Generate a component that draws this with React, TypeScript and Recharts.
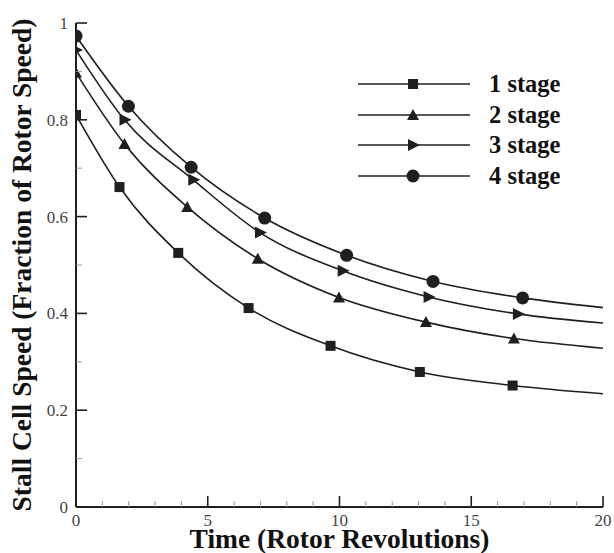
import { LineChart, Line, XAxis, YAxis } from 'recharts'

// readings from the figure: marker positions + end of each curve at t = 20
const STAGE1_T = [0, 1.65, 3.88, 6.55, 9.66, 13.05, 16.57, 20]
const STAGE1_V = [0.81, 0.661, 0.525, 0.411, 0.333, 0.279, 0.251, 0.234]
const STAGE2_T = [0, 1.84, 4.22, 6.9, 9.98, 13.28, 16.62, 20]
const STAGE2_V = [0.897, 0.75, 0.62, 0.513, 0.433, 0.382, 0.348, 0.328]
const STAGE3_T = [0, 1.84, 4.45, 6.98, 10.12, 13.38, 16.77, 20]
const STAGE3_V = [0.944, 0.8, 0.676, 0.567, 0.488, 0.434, 0.399, 0.38]
const STAGE4_T = [0, 1.99, 4.37, 7.16, 10.27, 13.55, 16.95, 20]
const STAGE4_V = [0.973, 0.828, 0.702, 0.597, 0.52, 0.466, 0.432, 0.412]

const SERIES_NAMES = ['1 stage', '2 stage', '3 stage', '4 stage']
const X_TICKS = Array.from({ length: 21 }, (_, i) => i)
const X_LABELS: Record<number, string> = { 0: '0', 5: '5', 10: '10', 15: '15', 20: '20' }
const Y_TICKS = [0, 0.1, 0.2, 0.3, 0.4, 0.5, 0.6, 0.7, 0.8, 0.9, 1]
const Y_LABELS: Record<number, string> = { 0: '0', 0.2: '0.2', 0.4: '0.4', 0.6: '0.6', 0.8: '0.8', 1: '1' }

const FONT = 'Liberation Serif'
const INK = '#1f1f1f'

type Shape = 'square' | 'triangle' | 'right' | 'circle'
const SHAPES: Shape[] = ['square', 'triangle', 'right', 'circle']

const toRows = (t: number[], v: number[]) => t.map((x, i) => ({ t: x, v: v[i] }))
const SERIES = [
  toRows(STAGE1_T, STAGE1_V),
  toRows(STAGE2_T, STAGE2_V),
  toRows(STAGE3_T, STAGE3_V),
  toRows(STAGE4_T, STAGE4_V),
]

function Marker({ shape, cx, cy }: { shape: Shape; cx: number; cy: number }) {
  if (shape === 'square') return <rect x={cx - 5} y={cy - 5} width={10} height={10} fill={INK} />
  if (shape === 'triangle')
    return <polygon points={`${cx},${cy - 6} ${cx + 6},${cy + 5} ${cx - 6},${cy + 5}`} fill={INK} />
  if (shape === 'right')
    return <polygon points={`${cx + 7},${cy} ${cx - 5},${cy - 6} ${cx - 5},${cy + 6}`} fill={INK} />
  return <circle cx={cx} cy={cy} r={6.5} fill={INK} />
}

const makeDot = (shape: Shape, last: number) => (props: any) => {
  const { cx, cy, index } = props
  if (index === last || cx == null) return <g key={`d-${shape}-${index}`} />
  return (
    <g key={`d-${shape}-${index}`}>
      <Marker shape={shape} cx={cx} cy={cy} />
    </g>
  )
}

const tickText = { fontFamily: FONT, fontSize: 17, fill: '#444' }

function XTick(props: any) {
  const { x, y, payload } = props
  const label = X_LABELS[payload.value]
  const major = label !== undefined
  return (
    <g>
      <line x1={x} x2={x} y1={y} y2={y - (major ? 11 : 6)} stroke={major ? INK : '#999'} strokeWidth={major ? 1.6 : 1} />
      {major && (
        <text x={x} y={y + 19} textAnchor="middle" style={tickText}>
          {label}
        </text>
      )}
    </g>
  )
}

function YTick(props: any) {
  const { x, y, payload } = props
  const label = Y_LABELS[payload.value]
  const major = label !== undefined
  return (
    <g>
      <line x1={x} x2={x + (major ? 11 : 6)} y1={y} y2={y} stroke={major ? INK : '#999'} strokeWidth={major ? 1.6 : 1} />
      {major && (
        <text x={x - 8} y={y + 6} textAnchor="end" style={tickText}>
          {label}
        </text>
      )}
    </g>
  )
}

function LegendBox() {
  return (
    <div style={{ position: 'absolute', left: 355, top: 69, width: 240 }}>
      {SERIES_NAMES.map((name, i) => (
        <div key={name} style={{ display: 'flex', alignItems: 'center', height: 30.5 }}>
          <svg width={120} height={20}>
            <line x1={3} x2={115} y1={10} y2={10} stroke={INK} strokeWidth={1.6} />
            <Marker shape={SHAPES[i]} cx={58} cy={10} />
          </svg>
          <span style={{ marginLeft: 14, fontFamily: FONT, fontWeight: 'bold', fontSize: 24.5, color: '#111', lineHeight: 1 }}>
            {name}
          </span>
        </div>
      ))}
    </div>
  )
}

export default function App() {
  return (
    <div style={{ position: 'absolute', left: 0, top: 0, width: 614, height: 553, background: '#fff' }}>
      <LineChart width={614} height={553} margin={{ top: 23, right: 11, bottom: 0, left: 0 }}>
        <XAxis
          dataKey="t"
          type="number"
          domain={[0, 20]}
          ticks={X_TICKS}
          interval={0}
          allowDataOverflow
          height={46}
          tickSize={0}
          tickMargin={0}
          tickLine={false}
          tick={<XTick />}
          axisLine={{ stroke: INK, strokeWidth: 2 }}
          label={{
            value: 'Time (Rotor Revolutions)',
            position: 'insideBottom',
            offset: 5,
            style: { fontFamily: FONT, fontWeight: 'bold', fontSize: 27.5, fill: '#111' },
          }}
        />
        <YAxis
          dataKey="v"
          type="number"
          domain={[0, 1]}
          ticks={Y_TICKS}
          interval={0}
          width={76}
          tickSize={0}
          tickMargin={0}
          tickLine={false}
          tick={<YTick />}
          axisLine={{ stroke: INK, strokeWidth: 2 }}
          label={{
            value: 'Stall Cell Speed (Fraction of Rotor Speed)',
            angle: -90,
            position: 'insideLeft',
            offset: 21,
            style: { textAnchor: 'middle', fontFamily: FONT, fontWeight: 'bold', fontSize: 27.5, fill: '#111' },
          }}
        />
        {SERIES.map((rows, i) => (
          <Line
            key={SERIES_NAMES[i]}
            data={rows}
            dataKey="v"
            name={SERIES_NAMES[i]}
            type="monotone"
            stroke={INK}
            strokeWidth={1.6}
            dot={makeDot(SHAPES[i], rows.length - 1)}
            activeDot={false}
            isAnimationActive={false}
          />
        ))}
      </LineChart>
      <LegendBox />
    </div>
  )
}
